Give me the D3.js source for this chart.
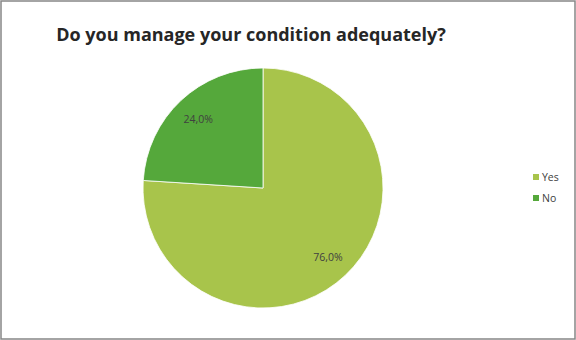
<!DOCTYPE html>
<html>
<head>
<meta charset="utf-8">
<script src="https://cdn.jsdelivr.net/npm/d3@7"></script>
<style>
  body { margin: 0; background: #fff; }
  svg { display: block; }
</style>
</head>
<body>
<svg id="chart"></svg>
<script>
// données
var categories = ["Yes", "No"];
var values = [76.0, 24.0];
var colors = ["#a8c44b", "#55a83b"];

var w = 576, h = 340;
var cx = 263, cy = 188, r = 120;

var svg = d3.select("#chart")
    .attr("width", w)
    .attr("height", h);

svg.append("rect")
    .attr("x", 1).attr("y", 1)
    .attr("width", w - 2).attr("height", h - 2)
    .attr("fill", "#fff")
    .attr("stroke", "#868686")
    .attr("stroke-width", 1.5);

svg.append("text")
    .attr("x", 251)
    .attr("y", 41)
    .attr("text-anchor", "middle")
    .attr("font-family", "'Open Sans', sans-serif")
    .attr("font-weight", "bold")
    .attr("font-size", 18)
    .attr("fill", "#262626")
    .text("Do you manage your condition adequately?");

var pie = d3.pie().sort(null).value(function(d){ return d; });
var arc = d3.arc().innerRadius(0).outerRadius(r);
var labelArc = d3.arc().innerRadius(r * 0.79).outerRadius(r * 0.79);

var g = svg.append("g").attr("transform", "translate(" + cx + "," + cy + ")");

var slices = pie(values);

g.selectAll("path")
    .data(slices)
    .enter().append("path")
    .attr("d", arc)
    .attr("fill", function(d, i){ return colors[i]; })
    .attr("stroke", "#fff")
    .attr("stroke-width", 0.8);

g.selectAll("text")
    .data(slices)
    .enter().append("text")
    .attr("transform", function(d){ return "translate(" + labelArc.centroid(d) + ")"; })
    .attr("dy", "0.35em")
    .attr("text-anchor", "middle")
    .attr("font-family", "'Open Sans', sans-serif")
    .attr("font-size", 10.5)
    .attr("fill", "#404040")
    .text(function(d){ return d.value.toFixed(1).replace(".", ",") + "%"; });

// légende
var legend = svg.append("g").attr("transform", "translate(533,174)");
var item = legend.selectAll("g")
    .data(categories)
    .enter().append("g")
    .attr("transform", function(d, i){ return "translate(0," + (i * 21) + ")"; });

item.append("rect")
    .attr("width", 6).attr("height", 6)
    .attr("fill", function(d, i){ return colors[i]; });

item.append("text")
    .attr("x", 9)
    .attr("y", 7)
    .attr("font-family", "'Open Sans', sans-serif")
    .attr("font-size", 10.5)
    .attr("fill", "#404040")
    .text(function(d){ return d; });
</script>
</body>
</html>
